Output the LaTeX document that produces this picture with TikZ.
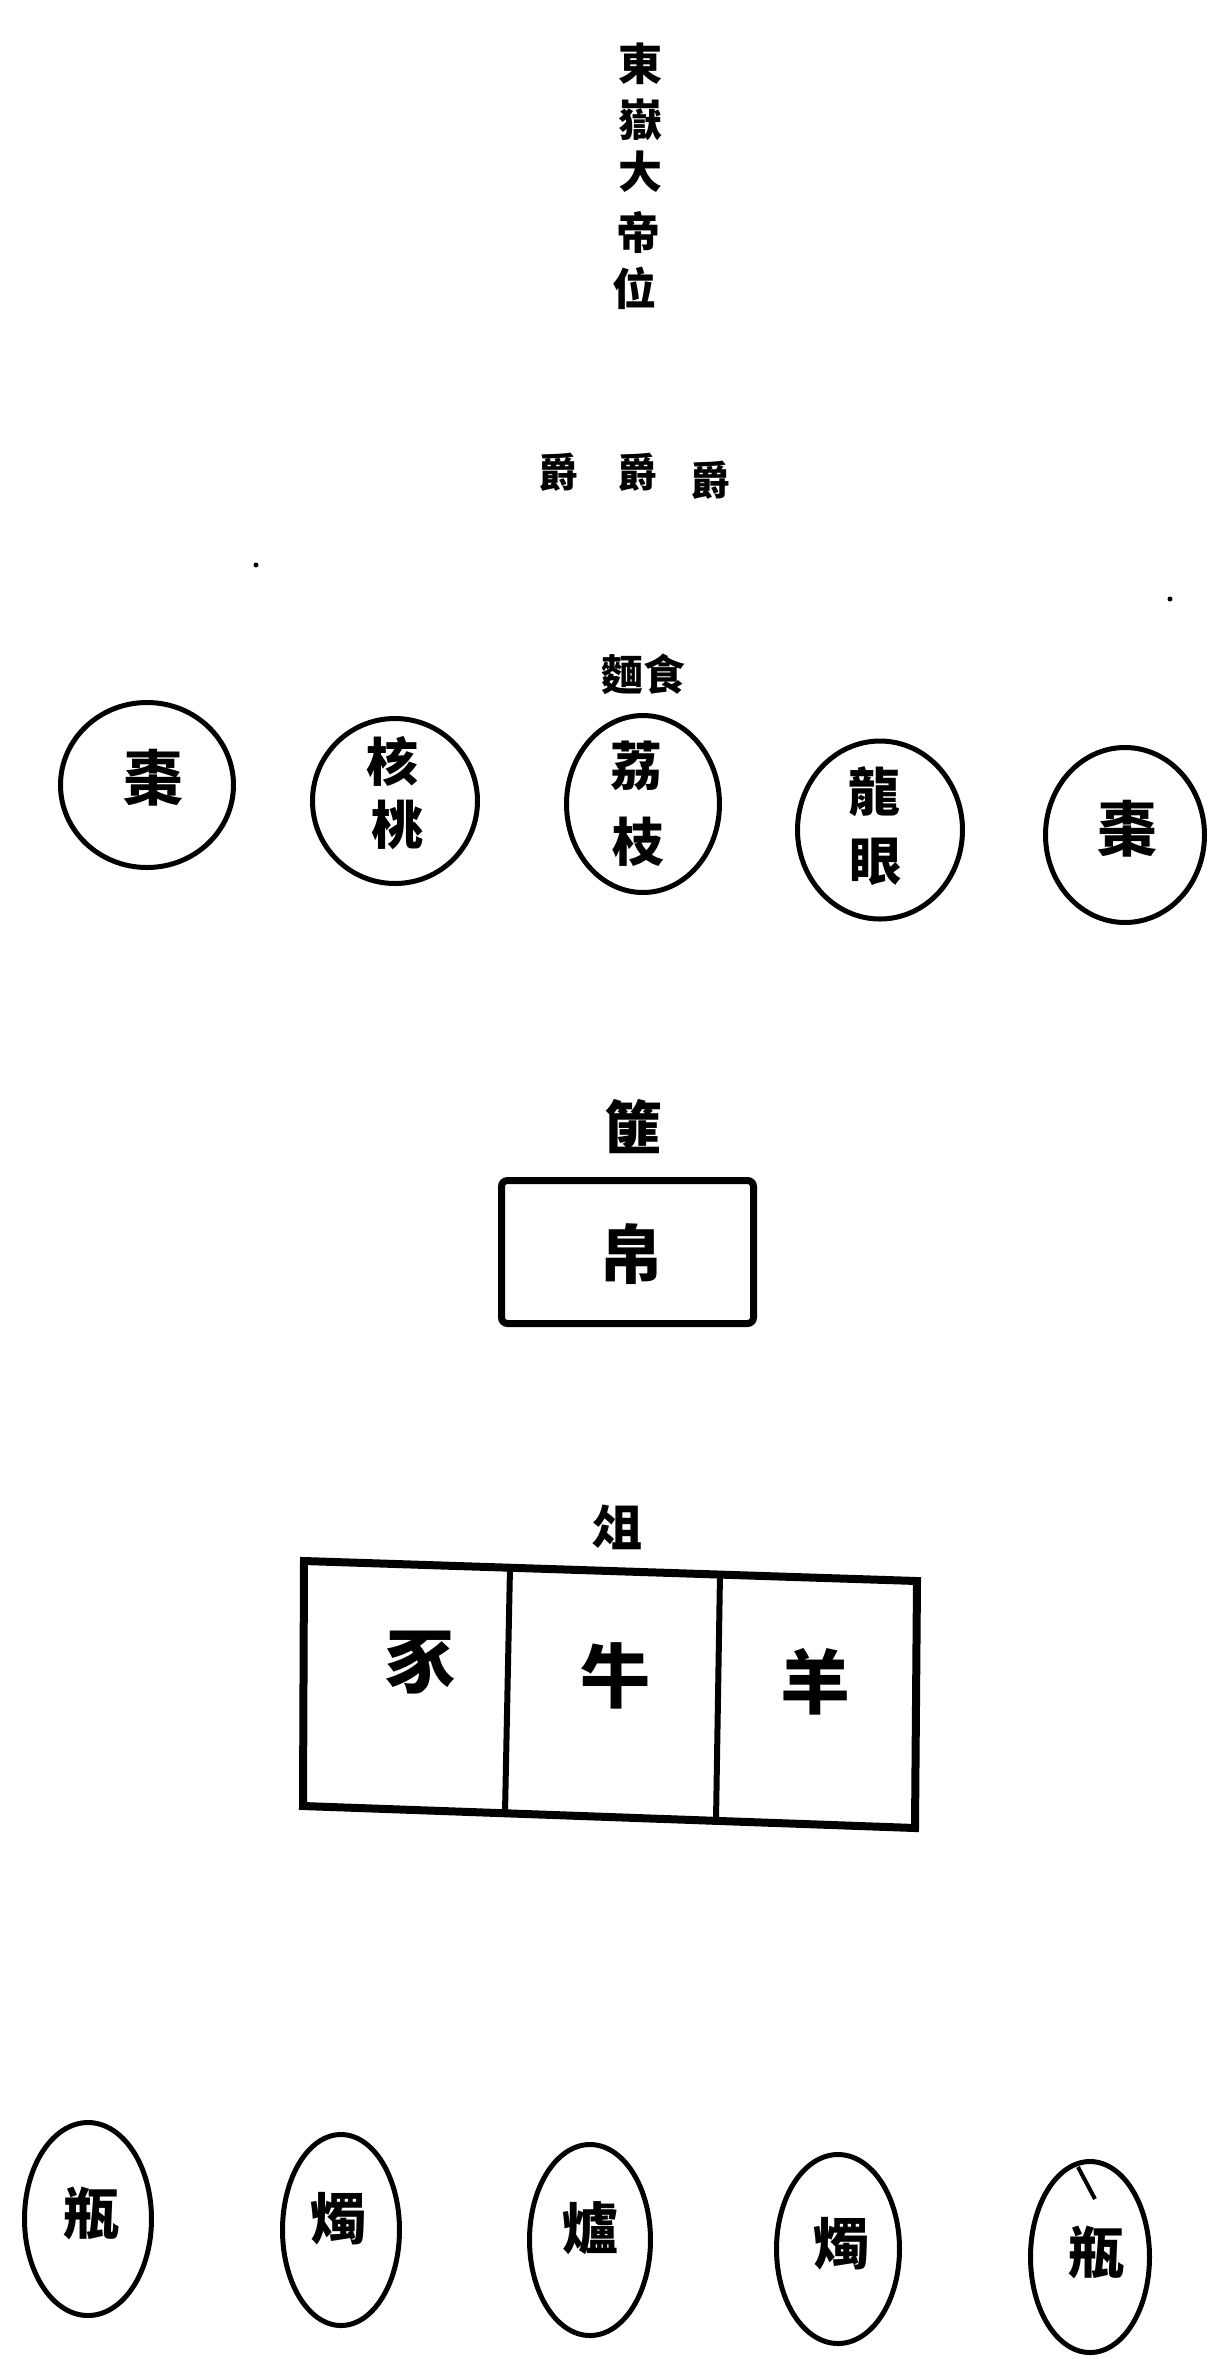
\documentclass[tikz,border=0pt]{standalone}
\usepackage{fontspec}
\usetikzlibrary{shapes.geometric}
\newfontfamily\cjk{Noto Sans CJK TC}
\tikzset{
  ch/.style={font=\cjk\bfseries\fontsize{#1}{#1}\selectfont, inner sep=0pt},
  dish/.style={ellipse, draw, line width=5pt, inner sep=0pt},
  tray/.style={draw, line width=7pt, inner sep=0pt},
}
\begin{document}
\begin{tikzpicture}[x=1pt,y=-1pt]
\fill[white] (0,0) rectangle (1211,2359);
\useasboundingbox (0,0) rectangle (1211,2359);
% tablet
\node[ch=44] (t1) at (640,64) {東};
\node[ch=44] (t2) at (640,120) {嶽};
\node[ch=44] (t3) at (640,172) {大};
\node[ch=44] (t4) at (638,232) {帝};
\node[ch=44] (t5) at (634,288) {位};
% cups
\node[ch=40] (j1) at (558,472) {爵};
\node[ch=40] (j2) at (637,472) {爵};
\node[ch=40] (j3) at (710,480) {爵};
% specks
\fill (256,565) circle (2.5);
\fill (1170,599) circle (2.5);
% label
\node[ch=42] (lbl) at (643,674) {麵食};
% fruit dishes
\node[dish, minimum width=173pt, minimum height=165pt] (c1) at (147,785) {};
\node[dish, minimum width=165pt, minimum height=165pt] (c2) at (395,801) {};
\node[dish, minimum width=153pt, minimum height=177pt] (c3) at (643,804) {};
\node[dish, minimum width=165pt, minimum height=178pt] (c4) at (880,830) {};
\node[dish, minimum width=159pt, minimum height=175pt] (c5) at (1125,835) {};
\node[ch=60] (f1) at (153,778) {棗};
\node[ch=52] (f2a) at (392,761) {核};
\node[ch=52] (f2b) at (397,825) {桃};
\node[ch=52] (f3a) at (636,766) {荔};
\node[ch=52] (f3b) at (638,842) {枝};
\node[ch=52] (f4a) at (874,792) {龍};
\node[ch=52] (f4b) at (875,862) {眼};
\node[ch=60] (f5) at (1127,829) {棗};
% silk basket
\node[ch=58] (fei) at (633,1127) {篚};
\node[tray, rounded corners=6pt, minimum width=252pt, minimum height=143pt] (silkbox) at (627.5,1252) {};
\node[ch=64] (silk) at (631,1254) {帛};
% sacrificial stand
\node[ch=50] (zu) at (617,1527) {俎};
\coordinate (zTL) at (304,1561);
\coordinate (zTR) at (917,1581);
\coordinate (zBR) at (915,1828);
\coordinate (zBL) at (303,1806);
\draw[line width=8pt, line join=miter] (zTL) -- (zTR) -- (zBR) -- (zBL) -- cycle;
\coordinate (d1t) at (510,1567);
\coordinate (d1b) at (505,1813);
\coordinate (d2t) at (720,1574);
\coordinate (d2b) at (716,1821);
\draw[line width=6pt] (d1t) -- (d1b);
\draw[line width=6pt] (d2t) -- (d2b);
\node[ch=70] (pig) at (420,1663) {豕};
\node[ch=70] (ox) at (615,1676) {牛};
\node[ch=70] (sheep) at (815,1682) {羊};
% vases, candles, censer
\node[dish, minimum width=127pt, minimum height=193pt] (o1) at (88,2219) {};
\node[dish, minimum width=117pt, minimum height=191pt] (o2) at (341,2230) {};
\node[dish, minimum width=121pt, minimum height=191pt] (o3) at (590,2240) {};
\node[dish, minimum width=123pt, minimum height=189pt] (o4) at (838,2249) {};
\node[dish, minimum width=119pt, minimum height=191pt] (o5) at (1090,2257) {};
\node[ch=56] (v1) at (91,2213) {瓶};
\node[ch=56] (k1) at (338,2219) {燭};
\node[ch=56] (lu) at (590,2228) {爐};
\node[ch=56] (k2) at (841,2244) {燭};
\node[ch=56] (v2) at (1096,2252) {瓶};
\coordinate (s1) at (1078,2167);
\coordinate (s2) at (1095,2199);
\draw[line width=4pt] (s1) -- (s2);
\end{tikzpicture}
\end{document}
